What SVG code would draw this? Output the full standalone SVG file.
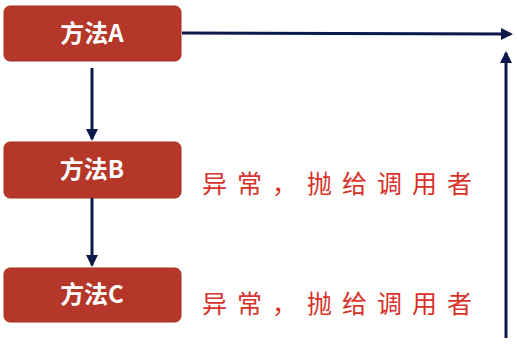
<svg xmlns="http://www.w3.org/2000/svg" width="517" height="348" viewBox="0 0 517 348">
<style>
.box{fill:#b5372a;stroke:#a8301f;stroke-width:1}
.lbl{font-family:"Noto Sans CJK SC","Noto Sans",sans-serif;font-weight:bold;font-size:24px;fill:#fff;text-anchor:middle}
.note{font-family:"Noto Sans CJK SC",sans-serif;font-size:25px;fill:#d8322a;letter-spacing:10px}
.conn{stroke:#0b1a4a;stroke-width:3;fill:none}
</style>
<defs>
<marker id="ah" markerWidth="12" markerHeight="12" refX="10" refY="6" orient="auto" markerUnits="userSpaceOnUse" viewBox="0 0 12 12">
<path d="M0,0 L12,6 L0,12 Z" fill="#0b1a4a"/>
</marker>
</defs>
<g id="nodeA"><rect class="box" x="4" y="6" width="177" height="55" rx="6"/><text class="lbl" x="92" y="42">方法A</text></g>
<g id="nodeB"><rect class="box" x="4" y="142" width="177" height="56" rx="6"/><text class="lbl" x="92" y="178">方法B</text></g>
<g id="nodeC"><rect class="box" x="4" y="268" width="177" height="54" rx="6"/><text class="lbl" x="92" y="303">方法C</text></g>
<g id="noteB"><text class="note" x="202" y="193">异常，抛给调用者</text></g>
<g id="noteC"><text class="note" x="202" y="313">异常，抛给调用者</text></g>
<g id="connectors">
<line class="conn" x1="182" y1="33" x2="511" y2="34" marker-end="url(#ah)"/>
<line class="conn" x1="506" y1="338" x2="506" y2="53" marker-end="url(#ah)"/>
<line class="conn" x1="92" y1="68" x2="92" y2="139" marker-end="url(#ah)"/>
<line class="conn" x1="92" y1="198" x2="92" y2="265" marker-end="url(#ah)"/>
</g>
</svg>
